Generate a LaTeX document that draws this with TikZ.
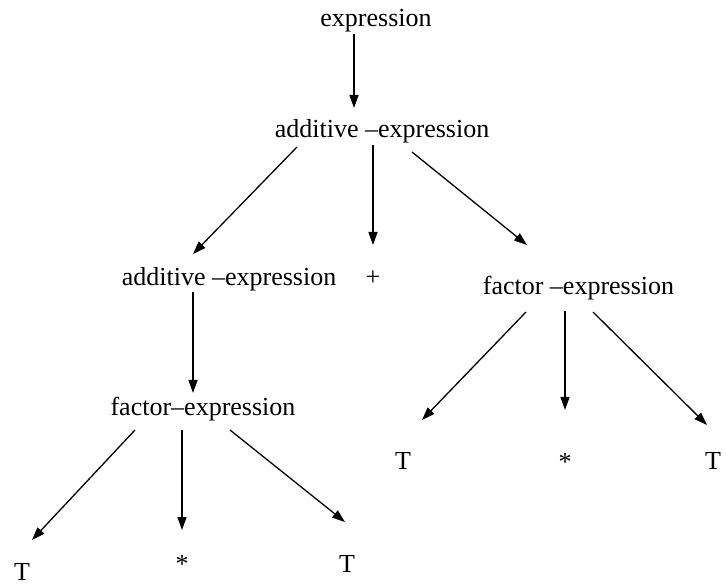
\documentclass[tikz,border=0pt]{standalone}
\usepackage{fontspec}
\setmainfont{Liberation Serif}
\usetikzlibrary{arrows.meta}
\begin{document}
\begin{tikzpicture}[x=1pt,y=-1pt,
  lbl/.style={inner sep=0pt,anchor=base,font=\fontsize{26}{30}\selectfont},
  arr/.style={line width=1.3pt,-{Triangle[length=13pt,width=9pt]}}]
\useasboundingbox (0,0) rectangle (726,585);
\node[lbl] (e) at (376,27) {expression};
\node[lbl] (a1) at (382,138) {additive –expression};
\node[lbl] (a2) at (229,286) {additive –expression};
\node[lbl] (plus) at (373,286) {+};
\node[lbl] (f1) at (578.5,295) {factor –expression};
\node[lbl] (f2) at (203,415) {factor–expression};
\node[lbl] (T1) at (403,469) {T};
\node[lbl] (s1) at (565,470) {*};
\node[lbl] (T2) at (713,469) {T};
\node[lbl] (T3) at (22,580) {T};
\node[lbl] (s2) at (182,572) {*};
\node[lbl] (T4) at (347,572) {T};
\draw[arr] ([shift={(-22,7)}]e.base) -- ([shift={(-28,-30)}]a1.base);
\draw[arr] ([shift={(-85,9)}]a1.base) -- ([shift={(-36,-32)}]a2.base);
\draw[arr] ([shift={(-9,7)}]a1.base) -- ([shift={(0,-41)}]plus.base);
\draw[arr] ([shift={(30,14)}]a1.base) -- ([shift={(-51.5,-50)}]f1.base);
\draw[arr] ([shift={(-36,6)}]a2.base) -- ([shift={(-10,-22)}]f2.base);
\draw[arr] ([shift={(-52.5,17)}]f1.base) -- ([shift={(19,-49)}]T1.base);
\draw[arr] ([shift={(-13.5,16)}]f1.base) -- ([shift={(0,-60)}]s1.base);
\draw[arr] ([shift={(14.5,17)}]f1.base) -- ([shift={(-6,-44)}]T2.base);
\draw[arr] ([shift={(-68,15)}]f2.base) -- ([shift={(10,-40)}]T3.base);
\draw[arr] ([shift={(-21,15)}]f2.base) -- ([shift={(0,-42)}]s2.base);
\draw[arr] ([shift={(27,15)}]f2.base) -- ([shift={(-2,-50)}]T4.base);
\end{tikzpicture}
\end{document}
